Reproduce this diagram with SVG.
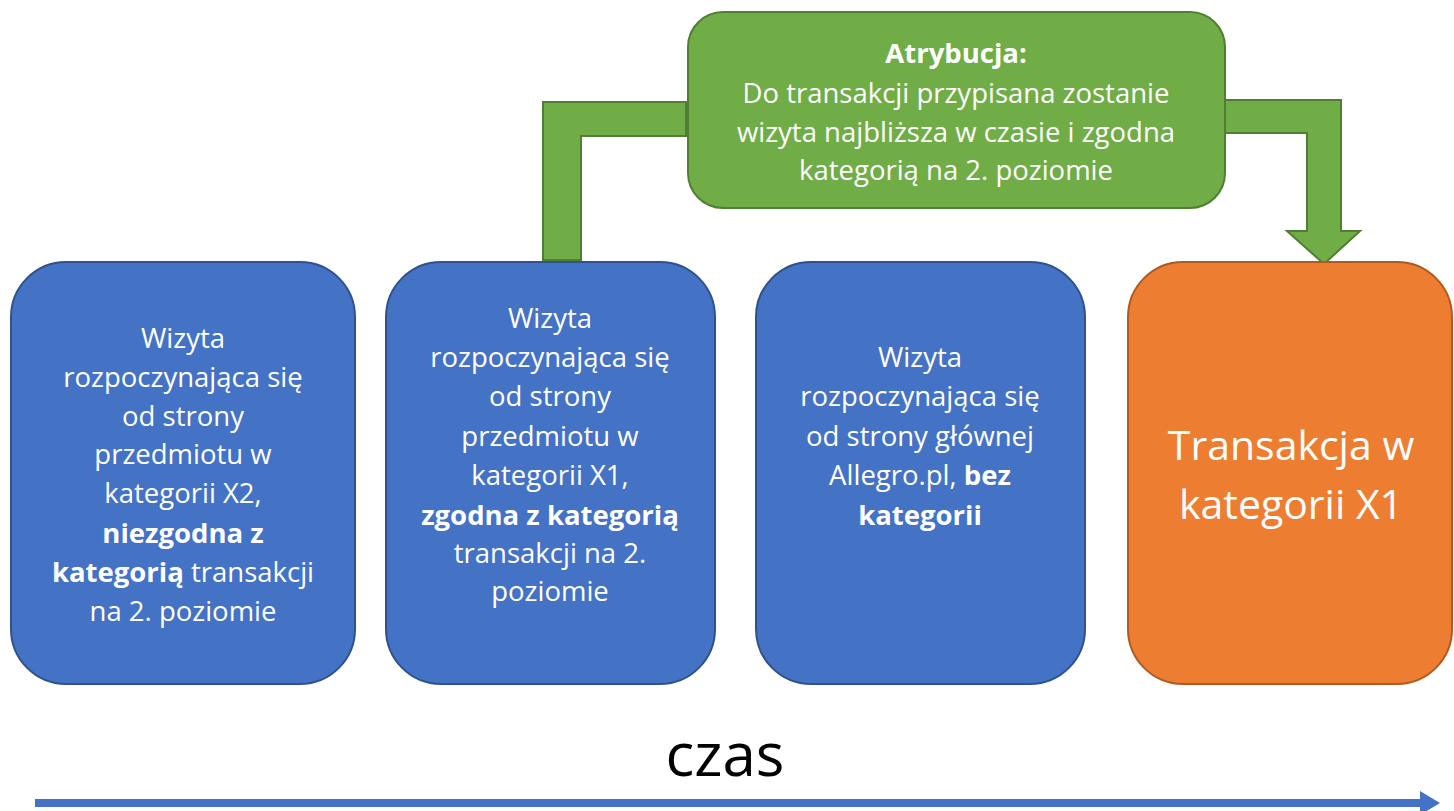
<svg xmlns="http://www.w3.org/2000/svg" width="1454" height="811" viewBox="0 0 1454 811">
<style>
.blue{fill:#4472C4;stroke:#2F528F;stroke-width:2}
.orange{fill:#ED7D31;stroke:#AE5A21;stroke-width:2}
.green{fill:#70AD47;stroke:#507E32;stroke-width:2}
text{font-family:"Open Sans","Noto Sans",sans-serif;fill:#fff;text-anchor:middle}
.t{font-size:27.5px}
.g{font-size:27.5px}
.big{font-size:41px}
.b{font-weight:bold}
</style>
<rect width="1454" height="811" fill="#fff"/>
<g id="connectors">
<path class="green" d="M686,102 L543,102 L543,260 L581,260 L581,136 L686,136 Z"/>
<path class="green" d="M1225,100 L1341,100 L1341,231 L1360,231 L1324,264 L1287,231 L1307,231 L1307,133 L1225,133 Z"/>
<path d="M35,799 L1420,799 L1420,791 L1440,803 L1420,815 L1420,807 L35,807 Z" fill="#4472C4"/>
</g>
<g id="n1">
<rect class="blue" x="11" y="262" width="344" height="422" rx="55"/>
<text class="t"><tspan x="183" y="348">Wizyta</tspan><tspan x="183" y="387">rozpoczynająca się</tspan><tspan x="183" y="426">od strony</tspan><tspan x="183" y="464">przedmiotu w</tspan><tspan x="183" y="503">kategorii X2,</tspan><tspan x="183" y="543" class="b">niezgodna z</tspan><tspan x="183" y="582"><tspan class="b">kategorią</tspan> transakcji</tspan><tspan x="183" y="621">na 2. poziomie</tspan></text>
</g>
<g id="n2">
<rect class="blue" x="386" y="262" width="329" height="422" rx="55"/>
<text class="t"><tspan x="550" y="328">Wizyta</tspan><tspan x="550" y="367">rozpoczynająca się</tspan><tspan x="550" y="406">od strony</tspan><tspan x="550" y="446">przedmiotu w</tspan><tspan x="550" y="485">kategorii X1,</tspan><tspan x="550" y="525" class="b">zgodna z kategorią</tspan><tspan x="550" y="563">transakcji na 2.</tspan><tspan x="550" y="601">poziomie</tspan></text>
</g>
<g id="n3">
<rect class="blue" x="756" y="262" width="329" height="422" rx="55"/>
<text class="t"><tspan x="920" y="367">Wizyta</tspan><tspan x="920" y="406">rozpoczynająca się</tspan><tspan x="920" y="446">od strony głównej</tspan><tspan x="920" y="485">Allegro.pl, <tspan class="b">bez</tspan></tspan><tspan x="920" y="525" class="b">kategorii</tspan></text>
</g>
<g id="n4">
<rect class="orange" x="1128" y="262" width="324" height="422" rx="55"/>
<text class="big"><tspan x="1291" y="460">Transakcja w</tspan><tspan x="1291" y="519">kategorii X1</tspan></text>
</g>
<g id="attr">
<rect class="green" x="688" y="12" width="537" height="196" rx="35"/>
<text class="g"><tspan x="956" y="63" class="b">Atrybucja:</tspan><tspan x="956" y="103">Do transakcji przypisana zostanie</tspan><tspan x="956" y="142">wizyta najbliższa w czasie i zgodna</tspan><tspan x="956" y="180">kategorią na 2. poziomie</tspan></text>
</g>
<text x="725" y="776" style="font-size:60px;fill:#000">czas</text>
</svg>
